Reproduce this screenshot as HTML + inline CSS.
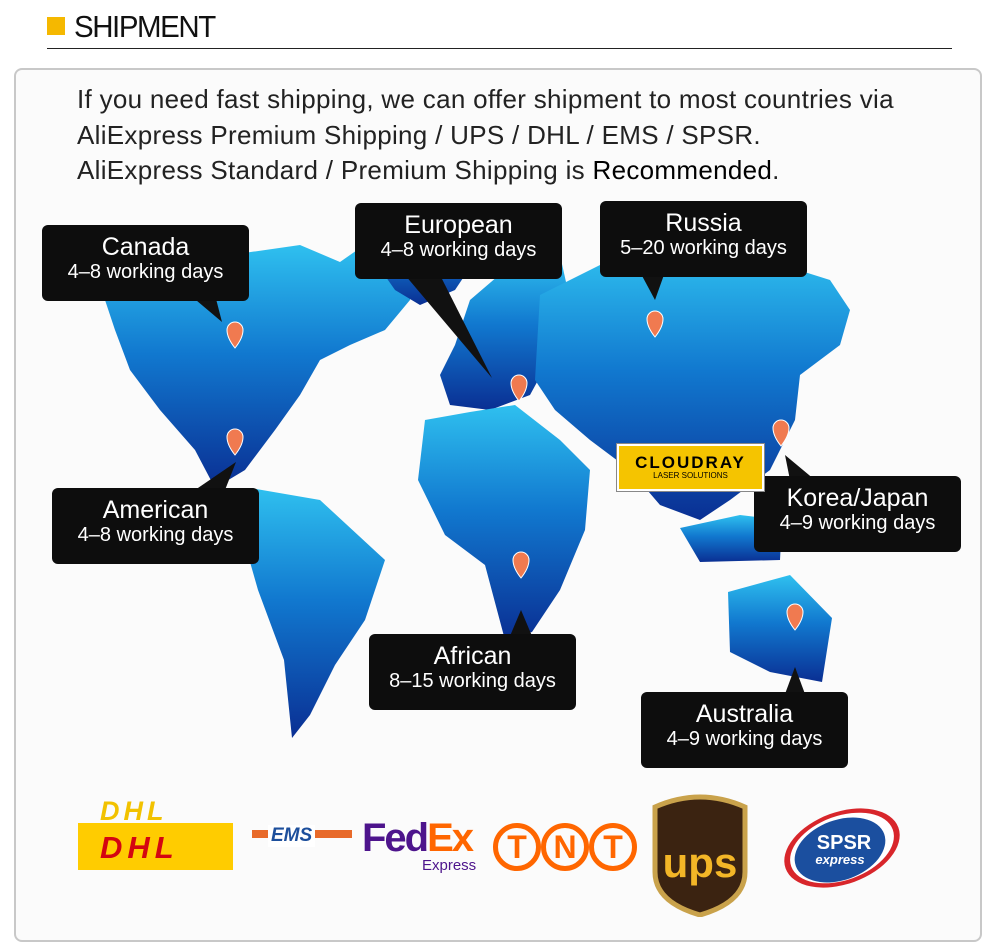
<!DOCTYPE html>
<html><head><meta charset="utf-8"><style>
body{margin:0;width:1000px;height:917px;background:#fff;overflow:hidden;position:relative;font-family:"Liberation Sans",sans-serif}
.abs{position:absolute}
.t{position:absolute;left:77px;font-size:26px;letter-spacing:0.3px;color:#222;white-space:nowrap}
</style></head><body>
<div class="abs" style="left:47px;top:17px;width:18px;height:18px;background:#f5b800"></div>
<div class="abs" style="left:74px;top:9px;font-size:31px;letter-spacing:-1.5px;color:#111;transform:scaleX(0.95);transform-origin:left">SHIPMENT</div>
<div class="abs" style="left:47px;top:48px;width:905px;height:1px;background:#222"></div>
<div class="abs" style="left:14px;top:68px;width:964px;height:870px;border:2px solid #c8c8c8;border-radius:8px;background:#fbfbfb"></div>
<div class="t" style="top:84px">If you need fast shipping, we can offer shipment to most countries via</div>
<div class="t" style="top:120px">AliExpress Premium Shipping / UPS / DHL / EMS / SPSR.</div>
<div class="t" style="top:155px">AliExpress Standard / Premium Shipping is <span style="color:#000">Recommended</span>.</div>
<svg class="abs" style="left:0;top:0" width="1000" height="917">
<defs><linearGradient id="g" x1="0" y1="0" x2="0" y2="1">
<stop offset="0" stop-color="#2fc0ef"/><stop offset="0.45" stop-color="#1178cf"/><stop offset="1" stop-color="#0a2f93"/></linearGradient></defs>
<g fill="url(#g)">
<polygon points="105,300 150,275 230,255 300,245 340,262 360,248 380,270 420,262 410,300 385,330 350,345 320,360 300,395 275,430 245,470 215,488 195,450 160,410 130,370 115,330"/>
<polygon points="360,240 430,215 470,220 485,245 455,290 420,305 395,290"/>
<polygon points="250,488 320,500 385,560 365,620 335,665 310,715 292,738 284,660 258,590 238,520"/>
<polygon points="455,345 470,300 505,270 560,255 570,300 560,340 530,395 490,410 450,405 440,375"/>
<polygon points="540,295 600,265 660,250 760,258 830,280 850,310 840,345 800,375 795,420 770,470 730,500 700,520 660,505 630,470 590,440 555,410 535,380"/>
<polygon points="425,420 470,412 515,405 560,440 590,470 585,530 560,590 532,632 505,640 485,565 445,535 418,480"/>
<polygon points="728,592 790,575 832,618 822,682 770,672 730,652"/>
<polygon points="680,528 740,515 782,520 780,560 700,562"/>
</g>
<g fill="#111">
<polygon points="190,295 215,295 222,322"/><polygon points="405,275 440,275 492,378"/>
<polygon points="640,272 665,272 655,300"/><polygon points="195,490 225,490 236,462"/>
<polygon points="790,480 815,480 785,455"/><polygon points="510,636 532,636 521,610"/>
<polygon points="785,694 805,694 795,667"/>
</g>
<g fill="#f07a50" stroke="#fff" stroke-width="1">
<path d="M227,330a8,8 0 1 1 16,0q0,8 -8,18q-8,-10 -8,-18z"/>
<path d="M511,383a8,8 0 1 1 16,0q0,8 -8,18q-8,-10 -8,-18z"/>
<path d="M647,319a8,8 0 1 1 16,0q0,8 -8,18q-8,-10 -8,-18z"/>
<path d="M227,437a8,8 0 1 1 16,0q0,8 -8,18q-8,-10 -8,-18z"/>
<path d="M773,428a8,8 0 1 1 16,0q0,8 -8,18q-8,-10 -8,-18z"/>
<path d="M513,560a8,8 0 1 1 16,0q0,8 -8,18q-8,-10 -8,-18z"/>
<path d="M787,612a8,8 0 1 1 16,0q0,8 -8,18q-8,-10 -8,-18z"/>
</g></svg>
<style>.b{position:absolute;background:#0d0d0d;border-radius:6px;color:#fff;text-align:center;width:207px;height:76px;box-sizing:border-box;padding-top:9px}
.b b{display:block;font-weight:normal;font-size:25px;line-height:26px}.b i{display:block;font-style:normal;font-size:20px;line-height:24px}</style>
<div class="b" style="left:42px;top:225px"><b>Canada</b><i>4–8 working days</i></div>
<div class="b" style="left:355px;top:203px"><b>European</b><i>4–8 working days</i></div>
<div class="b" style="left:600px;top:201px"><b>Russia</b><i>5–20 working days</i></div>
<div class="b" style="left:52px;top:488px"><b>American</b><i>4–8 working days</i></div>
<div class="b" style="left:754px;top:476px"><b>Korea/Japan</b><i>4–9 working days</i></div>
<div class="b" style="left:369px;top:634px"><b>African</b><i>8–15 working days</i></div>
<div class="b" style="left:641px;top:692px"><b>Australia</b><i>4–9 working days</i></div>
<div class="abs" style="left:617px;top:444px;width:147px;height:47px;background:#f5c400;border:2px solid #fff;box-shadow:0 0 0 1px #888;box-sizing:border-box;text-align:center">
<div style="font-size:17px;font-weight:bold;letter-spacing:2px;margin-top:8px;line-height:17px">CLOUDRAY</div>
<div style="font-size:8px;line-height:10px">LASER SOLUTIONS</div></div>
<div class="abs" style="left:78px;top:825px;width:155px;height:45px;background:#ffcc00"></div>
<div class="abs" style="left:78px;top:823px;width:155px;height:3px;background:#ffcc00"></div>
<div class="abs" style="left:100px;top:796px;font-size:27px;font-weight:bold;font-style:italic;color:#f2c200;letter-spacing:4px">DHL</div>
<div class="abs" style="left:100px;top:830px;font-size:31px;font-weight:bold;font-style:italic;color:#d40511;letter-spacing:5px">DHL</div>
<div class="abs" style="left:252px;top:830px;width:100px;height:8px;background:#e86a2a"></div>
<div class="abs" style="left:268px;top:825px;font-size:19px;font-weight:bold;font-style:italic;color:#1d4f9c;background:#fff;padding:0 3px">EMS</div>
<div class="abs" style="left:362px;top:816px;font-size:40px;font-weight:bold;letter-spacing:-2px;color:#4d148c">Fed<span style="color:#ff6600">Ex</span></div>
<div class="abs" style="left:422px;top:857px;font-size:15px;color:#4d148c">Express</div>
<div class="abs" style="left:493px;top:823px;font-size:32px;font-weight:bold;color:#ff6600;display:flex">
<span style="width:38px;height:38px;border:5px solid #ff6600;border-radius:50%;text-align:center;line-height:38px">T</span>
<span style="width:38px;height:38px;border:5px solid #ff6600;border-radius:50%;text-align:center;line-height:38px">N</span>
<span style="width:38px;height:38px;border:5px solid #ff6600;border-radius:50%;text-align:center;line-height:38px">T</span></div>
<svg class="abs" style="left:650px;top:792px" width="100" height="125"><path d="M5,15q45,-20 90,0v65q0,30 -45,43q-45,-13 -45,-43z" fill="#3b2311" stroke="#c9a24b" stroke-width="5"/>
<text x="50" y="85" font-family="Liberation Sans" font-weight="bold" font-size="42" fill="#f3b627" text-anchor="middle">ups</text></svg>
<svg class="abs" style="left:782px;top:805px" width="125" height="85"><ellipse cx="60" cy="43" rx="60" ry="36" fill="#d8262b" transform="rotate(-20 60 43)"/><ellipse cx="60" cy="43" rx="54" ry="32" fill="#fff" transform="rotate(-20 60 43)"/><ellipse cx="58" cy="45" rx="47" ry="30" fill="#1b4f9f" transform="rotate(-20 58 45)"/>
<text x="62" y="44" font-family="Liberation Sans" font-weight="bold" font-size="20" fill="#fff" text-anchor="middle">SPSR</text>
<text x="58" y="59" font-family="Liberation Sans" font-weight="bold" font-style="italic" font-size="13" fill="#fff" text-anchor="middle">express</text></svg>
</body></html>
